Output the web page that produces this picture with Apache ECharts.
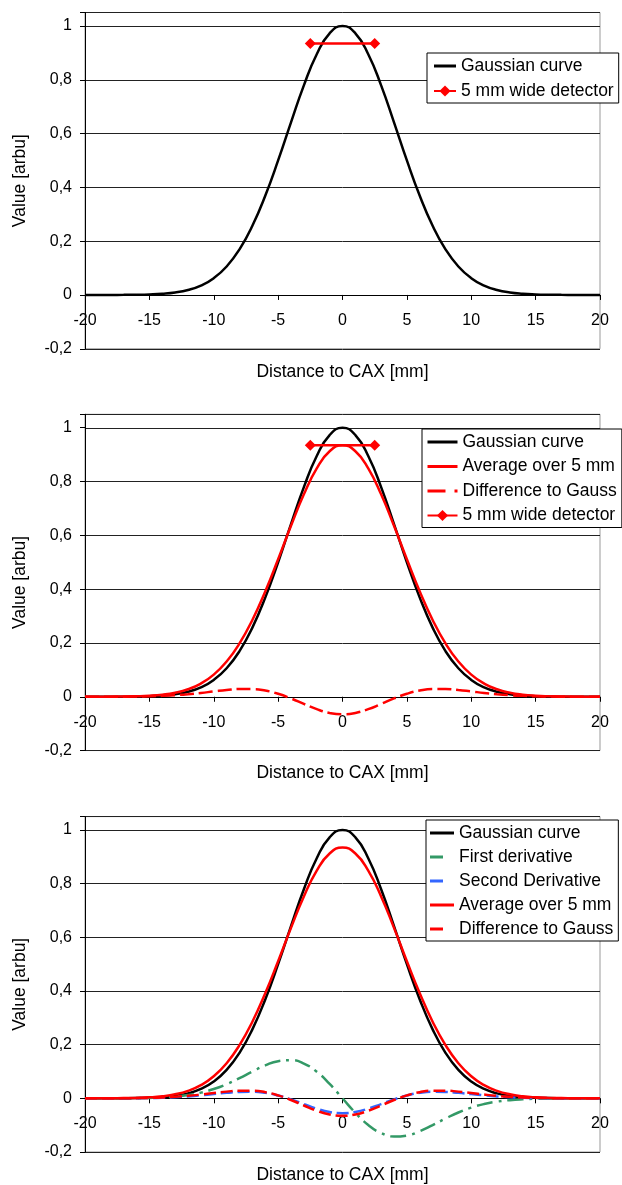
<!DOCTYPE html>
<html>
<head>
<meta charset="utf-8">
<title>Gaussian curve and 5 mm detector</title>
<script src="https://cdn.jsdelivr.net/npm/echarts@6/dist/echarts.min.js"></script>
<style>
  html, body { margin: 0; padding: 0; background: #fff; }
  #chart { width: 622px; height: 1185px; }
</style>
</head>
<body>
<div id="chart"></div>
<script>
// distance to CAX [mm]
var xs = [-20, -19, -18, -17, -16, -15, -14, -13, -12, -11, -10, -9, -8, -7, -6, -5, -4, -3, -2, -1, 0,
  1, 2, 3, 4, 5, 6, 7, 8, 9, 10, 11, 12, 13, 14, 15, 16, 17, 18, 19, 20];

// values
var gauss = [0, 0, 0.0001, 0.0003, 0.0008, 0.002, 0.0044, 0.0092, 0.0185, 0.0349, 0.0625, 0.1059, 0.1696, 0.2571, 0.3686, 0.5, 0.6417, 0.7792, 0.895, 0.9727, 1,
  0.9727, 0.895, 0.7792, 0.6417, 0.5, 0.3686, 0.2571, 0.1696, 0.1059, 0.0625, 0.0349, 0.0185, 0.0092, 0.0044, 0.002, 0.0008, 0.0003, 0.0001, 0, 0];
var average = [0.0001, 0.0001, 0.0003, 0.0008, 0.0017, 0.0037, 0.0077, 0.015, 0.0279, 0.0491, 0.0822, 0.1309, 0.1982, 0.2855, 0.3915, 0.5111, 0.6354, 0.7524, 0.8489, 0.9125, 0.9348,
  0.9125, 0.8489, 0.7524, 0.6354, 0.5111, 0.3915, 0.2855, 0.1982, 0.1309, 0.0822, 0.0491, 0.0279, 0.015, 0.0077, 0.0037, 0.0017, 0.0008, 0.0003, 0.0001, 0.0001];
var difference = [0, 0.0001, 0.0002, 0.0004, 0.0009, 0.0018, 0.0033, 0.0058, 0.0094, 0.0142, 0.0197, 0.025, 0.0286, 0.0285, 0.023, 0.0111, -0.0063, -0.0267, -0.0462, -0.0601, -0.0652,
  -0.0601, -0.0462, -0.0267, -0.0063, 0.0111, 0.023, 0.0285, 0.0286, 0.025, 0.0197, 0.0142, 0.0094, 0.0058, 0.0033, 0.0018, 0.0009, 0.0004, 0.0002, 0.0001, 0];
var firstDeriv = [0, 0.0001, 0.0001, 0.0003, 0.0007, 0.0016, 0.0034, 0.0067, 0.0123, 0.0213, 0.0347, 0.0528, 0.0752, 0.0998, 0.1226, 0.1386, 0.1423, 0.1296, 0.0993, 0.0539, 0,
  -0.0539, -0.0993, -0.1296, -0.1423, -0.1386, -0.1226, -0.0998, -0.0752, -0.0528, -0.0347, -0.0213, -0.0123, -0.0067, -0.0034, -0.0016, -0.0007, -0.0003, -0.0001, -0.0001, 0];
var secondDeriv = [0, 0.0001, 0.0001, 0.0003, 0.0006, 0.0012, 0.0024, 0.0043, 0.0072, 0.0111, 0.0158, 0.0205, 0.024, 0.0245, 0.0204, 0.0107, -0.004, -0.0216, -0.0386, -0.0509, -0.0555,
  -0.0509, -0.0386, -0.0216, -0.004, 0.0107, 0.0204, 0.0245, 0.024, 0.0205, 0.0158, 0.0111, 0.0072, 0.0043, 0.0024, 0.0012, 0.0006, 0.0003, 0.0001, 0.0001, 0];

// 5 mm wide detector
var detectorX = [-2.5, 2.5];
var detectorY = [0.935, 0.935];

var FONT = "'Liberation Sans', Arial, sans-serif";
var gridTops = [12.5, 414.3, 816.6];
var GRID_H = 336.25;

// legend icons
function bar(w) { return 'path://M0,0 L' + w + ',0 L' + w + ',3 L0,3 Z'; }
var dash24 = 'path://M0,0 L13,0 L13,3 L0,3 Z M23.9,1.5 L24,1.5';
var dashDot30 = 'path://M0,0 L18,0 L18,3 L0,3 Z M27,0 L30,0 L30,3 L27,3 Z';

var legend1 = [
  { name: 'Gaussian curve', icon: bar(22) },
  { name: '5 mm wide detector' }
];
var legend2 = [
  { name: 'Gaussian curve', icon: bar(30) },
  { name: 'Average over 5 mm', icon: bar(30) },
  { name: 'Difference to Gauss', icon: dashDot30 },
  { name: '5 mm wide detector' }
];
var legend3 = [
  { name: 'Gaussian curve', icon: bar(24) },
  { name: 'First derivative', icon: dash24 },
  { name: 'Second Derivative', icon: dash24 },
  { name: 'Average over 5 mm', icon: bar(24) },
  { name: 'Difference to Gauss', icon: dash24 }
];

function pts(xv, yv) {
  return xv.map(function (x, i) { return [x, yv[i]]; });
}

function yLabel(v) {
  if (Math.abs(v - 1.05) < 1e-6) return '';
  return String(Math.round(v * 10) / 10).replace('.', ',');
}

var grids = [], xAxes = [], yAxes = [];
for (var g = 0; g < 3; g++) {
  grids.push({
    left: 85, width: 515, top: gridTops[g], height: GRID_H,
    show: true, borderColor: '#999', borderWidth: 1, backgroundColor: '#fff'
  });
  xAxes.push({
    gridIndex: g, type: 'value', min: -20, max: 20, interval: 5,
    name: 'Distance to CAX [mm]', nameLocation: 'middle', nameGap: 14,
    nameTextStyle: { fontSize: 17.5, color: '#000', fontFamily: FONT },
    axisLine: { show: true, onZero: true, lineStyle: { color: '#000', width: 1 } },
    axisTick: { show: true, inside: false, length: 5, lineStyle: { color: '#000' } },
    // labels sit just under the zero line, above the -0,2 edge
    axisLabel: { margin: -36, fontSize: 16, color: '#000', fontFamily: FONT, showMinLabel: true, showMaxLabel: true, hideOverlap: false },
    splitLine: { show: false }
  });
  yAxes.push({
    gridIndex: g, type: 'value', min: -0.2, max: 1.05, interval: 0.2,
    name: 'Value [arbu]', nameLocation: 'middle', nameRotate: 90, nameGap: 56,
    nameTextStyle: { fontSize: 17.5, color: '#000', fontFamily: FONT },
    axisLine: { show: true, onZero: false, lineStyle: { color: '#000', width: 1 } },
    axisTick: { show: true, inside: false, length: 5, lineStyle: { color: '#000' } },
    axisLabel: { margin: 13, fontSize: 16, color: '#000', fontFamily: FONT, formatter: yLabel },
    splitLine: { show: true, lineStyle: { color: '#222', width: 1 } }
  });
}

function legendBox(data, left, top, itemWidth, gap, padLeft) {
  return {
    data: data, orient: 'vertical', align: 'left',
    left: left, top: top,
    itemWidth: itemWidth, itemHeight: 14, itemGap: gap,
    padding: [4, 5, 3, padLeft],
    backgroundColor: '#fff', borderColor: '#000', borderWidth: 1,
    selectedMode: false,
    textStyle: { fontSize: 17.5, color: '#000', fontFamily: FONT, lineHeight: 17 }
  };
}

var legends = [
  legendBox(legend1, 427, 53, 22, 7, 6),
  legendBox(legend2, 422, 429, 30, 6.5, 4.5),
  legendBox(legend3, 426, 820, 24, 6, 4)
];

function curve(name, idx, ys, color, dash) {
  return {
    name: name, type: 'line', xAxisIndex: idx, yAxisIndex: idx,
    data: pts(xs, ys), symbol: 'none', smooth: 0.5,
    lineStyle: { color: color, width: 2.5, type: dash || 'solid' },
    itemStyle: { color: color }
  };
}

function detector(idx) {
  return {
    name: '5 mm wide detector', type: 'line', xAxisIndex: idx, yAxisIndex: idx,
    data: pts(detectorX, detectorY), symbol: 'diamond', symbolSize: 11, showSymbol: true,
    lineStyle: { color: '#ff0000', width: 2.5 },
    itemStyle: { color: '#ff0000' }
  };
}

var series = [
  curve('Gaussian curve', 0, gauss, '#000'),
  detector(0),

  curve('Gaussian curve', 1, gauss, '#000'),
  curve('Average over 5 mm', 1, average, '#ff0000'),
  curve('Difference to Gauss', 1, difference, '#ff0000', [14, 5]),
  detector(1),

  curve('Gaussian curve', 2, gauss, '#000'),
  curve('First derivative', 2, firstDeriv, '#339966', [16, 6, 3, 6]),
  curve('Second Derivative', 2, secondDeriv, '#3366ff', [12, 5]),
  curve('Average over 5 mm', 2, average, '#ff0000'),
  curve('Difference to Gauss', 2, difference, '#ff0000', [12, 5])
];

var chart = echarts.init(document.getElementById('chart'));
chart.setOption({
  animation: false,
  backgroundColor: '#fff',
  textStyle: { fontFamily: FONT },
  grid: grids,
  xAxis: xAxes,
  yAxis: yAxes,
  legend: legends,
  series: series
});
</script>
</body>
</html>
